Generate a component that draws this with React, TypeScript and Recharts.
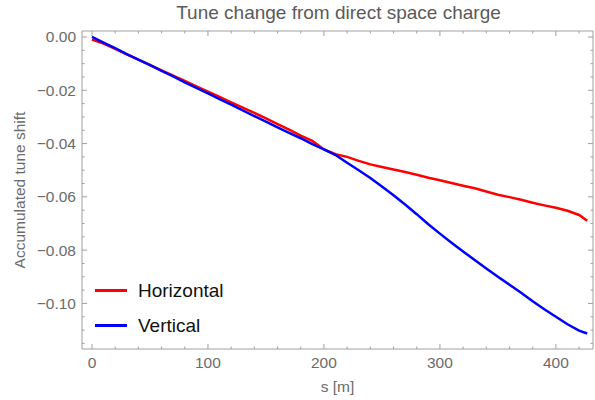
import { Line, LineChart, XAxis, YAxis } from "recharts";

const sValues = [
  0, 10, 20, 30, 40, 50, 60, 70, 80, 90, 100, 110, 120, 130, 140, 150, 160, 170, 180, 190, 200, 210, 220, 230,
  240, 250, 260, 270, 280, 290, 300, 310, 320, 330, 340, 350, 360, 370, 380, 390, 400, 410, 420, 427,
];

const horizontal = [
  -0.001, -0.0025, -0.0045, -0.0065, -0.0085, -0.0105, -0.0125, -0.0145, -0.0165, -0.0185, -0.0205, -0.0225,
  -0.0245, -0.0265, -0.0285, -0.0305, -0.0327, -0.0348, -0.037, -0.039, -0.0422, -0.044, -0.045, -0.0465, -0.0478,
  -0.0488, -0.0497, -0.0507, -0.0517, -0.0528, -0.0538, -0.0548, -0.0558, -0.0568, -0.058, -0.0592, -0.0601,
  -0.0611, -0.0622, -0.0632, -0.0641, -0.0652, -0.0668, -0.069,
];

const vertical = [
  0.0, -0.0021, -0.0042, -0.0064, -0.0085, -0.0106, -0.0127, -0.0148, -0.017, -0.0191, -0.0212, -0.0233, -0.0254,
  -0.0275, -0.0297, -0.0318, -0.0339, -0.036, -0.038, -0.0402, -0.0422, -0.0443, -0.0472, -0.05, -0.0529, -0.0561,
  -0.0594, -0.0629, -0.0665, -0.0703, -0.0738, -0.0772, -0.0805, -0.0837, -0.0869, -0.09, -0.093, -0.096, -0.0992,
  -0.1022, -0.105, -0.1078, -0.1102, -0.1113,
];

const xMajor = [0, 100, 200, 300, 400];
const xMinor = [20, 40, 60, 80, 120, 140, 160, 180, 220, 240, 260, 280, 320, 340, 360, 380, 420];
const yMajor = [0, -0.02, -0.04, -0.06, -0.08, -0.1];
const yMinor = [
  -0.005, -0.01, -0.015, -0.025, -0.03, -0.035, -0.045, -0.05, -0.055, -0.065, -0.07, -0.075, -0.085, -0.09,
  -0.095, -0.105, -0.11, -0.115,
];

const seriesNames = ["Horizontal", "Vertical"];
const seriesColors = ["#ff0000", "#0000ff"];

const data = sValues.map((s, i) => ({ s, horizontal: horizontal[i], vertical: vertical[i] }));

const xDomain: [number, number] = [-8.6, 432];
const yDomain: [number, number] = [-0.1171, 0.00225];
const xTicks = [...xMajor, ...xMinor].sort((a, b) => a - b);
const yTicks = [...yMajor, ...yMinor].sort((a, b) => b - a);

const FRAME = "#a0a0a0";
const LABEL = "#6b6b6b";
const FONT = "'Liberation Sans', Arial, sans-serif";
const FS = 15.5;
const X_GAP = 8;
const Y_GAP = 6;

const fmtY = (v: number) => (v === 0 ? "0.00" : "\u2212" + Math.abs(v).toFixed(2));

// frame ticks point inward, like a Mathematica frame
function makeTick(side: "bottom" | "top" | "left" | "right") {
  return (props: any) => {
    const { x, y, payload } = props;
    const v = payload.value as number;
    const major = side === "bottom" || side === "top" ? xMajor.includes(v) : yMajor.includes(v);
    const len = major ? 5 : 2.5;
    const line = { stroke: FRAME, strokeWidth: 1 };
    if (side === "bottom") {
      const ay = y - X_GAP;
      return (
        <g>
          <line x1={x} x2={x} y1={ay} y2={ay - len} {...line} />
          {major && (
            <text x={x} y={y} dy="0.71em" textAnchor="middle" fill={LABEL} fontSize={FS} fontFamily={FONT}>
              {v}
            </text>
          )}
        </g>
      );
    }
    if (side === "left") {
      const ax = x + Y_GAP;
      return (
        <g>
          <line x1={ax} x2={ax + len} y1={y} y2={y} {...line} />
          {major && (
            <text x={x} y={y} dy="0.355em" textAnchor="end" fill={LABEL} fontSize={FS} fontFamily={FONT}>
              {fmtY(v)}
            </text>
          )}
        </g>
      );
    }
    if (side === "top") return <line x1={x} x2={x} y1={y} y2={y + len} {...line} />;
    return <line x1={x} x2={x - len} y1={y} y2={y} {...line} />;
  };
}

export default function App() {
  return (
    <div style={{ position: "absolute", left: 0, top: 0, width: 595, height: 400, background: "#fff" }}>
      <div
        style={{
          position: "absolute",
          left: 82,
          width: 513,
          top: 2,
          textAlign: "center",
          fontFamily: FONT,
          fontSize: 19,
          color: "#5a5a5a",
        }}
      >
        Tune change from direct space charge
      </div>
      <LineChart width={595} height={400} data={data} margin={{ top: 0, right: 0, bottom: 0, left: 0 }}>
        <XAxis
          type="number"
          dataKey="s"
          domain={xDomain}
          allowDataOverflow
          ticks={xTicks}
          interval={0}
          tickSize={0}
          tickMargin={X_GAP}
          tickLine={false}
          axisLine={{ stroke: FRAME }}
          height={51}
          tick={makeTick("bottom")}
          label={{ value: "s [m]", position: "insideBottom", offset: 8, fill: LABEL, fontSize: FS, fontFamily: FONT }}
        />
        <XAxis
          xAxisId="top"
          orientation="top"
          type="number"
          dataKey="s"
          domain={xDomain}
          allowDataOverflow
          ticks={xTicks}
          interval={0}
          tickSize={0}
          tickMargin={0}
          tickLine={false}
          axisLine={{ stroke: FRAME }}
          height={31}
          tick={makeTick("top")}
        />
        <YAxis
          type="number"
          domain={yDomain}
          allowDataOverflow
          ticks={yTicks}
          interval={0}
          width={82}
          tickSize={0}
          tickMargin={Y_GAP}
          tickLine={false}
          axisLine={{ stroke: FRAME }}
          tick={makeTick("left")}
          label={{
            value: "Accumulated tune shift",
            angle: -90,
            position: "insideLeft",
            offset: 19,
            style: { textAnchor: "middle" },
            fill: LABEL,
            fontSize: FS,
            fontFamily: FONT,
          }}
        />
        <YAxis
          yAxisId="right"
          orientation="right"
          type="number"
          domain={yDomain}
          allowDataOverflow
          ticks={yTicks}
          interval={0}
          width={2}
          tickSize={0}
          tickMargin={0}
          tickLine={false}
          axisLine={{ stroke: FRAME }}
          tick={makeTick("right")}
        />
        <Line
          type="linear"
          dataKey="horizontal"
          name={seriesNames[0]}
          stroke={seriesColors[0]}
          strokeWidth={2.5}
          dot={false}
          isAnimationActive={false}
        />
        <Line
          type="linear"
          dataKey="vertical"
          name={seriesNames[1]}
          stroke={seriesColors[1]}
          strokeWidth={2.5}
          dot={false}
          isAnimationActive={false}
        />
      </LineChart>
      <div style={{ position: "absolute", left: 95, top: 273, fontFamily: FONT }}>
        {seriesNames.map((name, i) => (
          <div key={name} style={{ display: "flex", alignItems: "center", height: 35 }}>
            <div style={{ width: 32, height: 3, background: seriesColors[i], marginRight: 11 }} />
            <span style={{ fontSize: 19, color: "#111" }}>{name}</span>
          </div>
        ))}
      </div>
    </div>
  );
}
